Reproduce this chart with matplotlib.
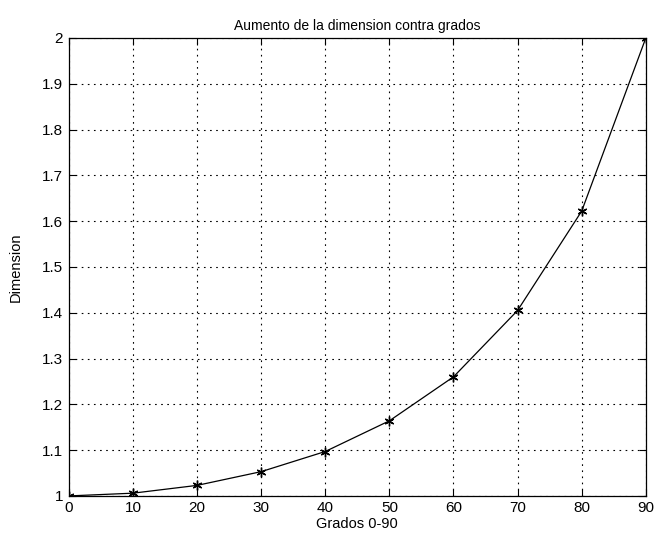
import matplotlib
matplotlib.use('Agg')
import matplotlib.pyplot as plt

# Data
grados = [0, 10, 20, 30, 40, 50, 60, 70, 80, 90]
dimension = [1.0, 1.006, 1.023, 1.053, 1.097, 1.164, 1.26, 1.405, 1.622, 2.0]
x_ticks = [0, 10, 20, 30, 40, 50, 60, 70, 80, 90]
y_ticks = [1, 1.1, 1.2, 1.3, 1.4, 1.5, 1.6, 1.7, 1.8, 1.9, 2]
y_labels = ['1', '1.1', '1.2', '1.3', '1.4', '1.5', '1.6', '1.7', '1.8', '1.9', '2']

plt.rcParams['font.family'] = ['Liberation Sans', 'DejaVu Sans']

fig = plt.figure(figsize=(6.55, 5.42), dpi=100)
ax = fig.add_axes([0.105, 0.085, 0.881, 0.845])

ax.plot(grados, dimension, color='black', linewidth=0.9, marker=(6, 2, 0),
        markersize=7, markeredgewidth=1.0)

ax.set_xlim(0, 90)
ax.set_ylim(1, 2)
ax.set_xticks(x_ticks)
ax.set_yticks(y_ticks)
ax.set_yticklabels(y_labels)
ax.tick_params(direction='in', length=5, width=0.8, labelsize=11, pad=4,
               top=True, right=True)
ax.grid(True, color='black', linestyle=(0, (1.5, 4)), linewidth=0.8)
for s in ax.spines.values():
    s.set_linewidth(0.9)

ax.set_title("Aumento de la dimension contra grados", fontsize=10, pad=6)
ax.set_xlabel("Grados 0-90", fontsize=10.5, labelpad=1)
ax.set_ylabel("Dimension", fontsize=10.5, labelpad=14)

fig.savefig('out.png', dpi=100)
